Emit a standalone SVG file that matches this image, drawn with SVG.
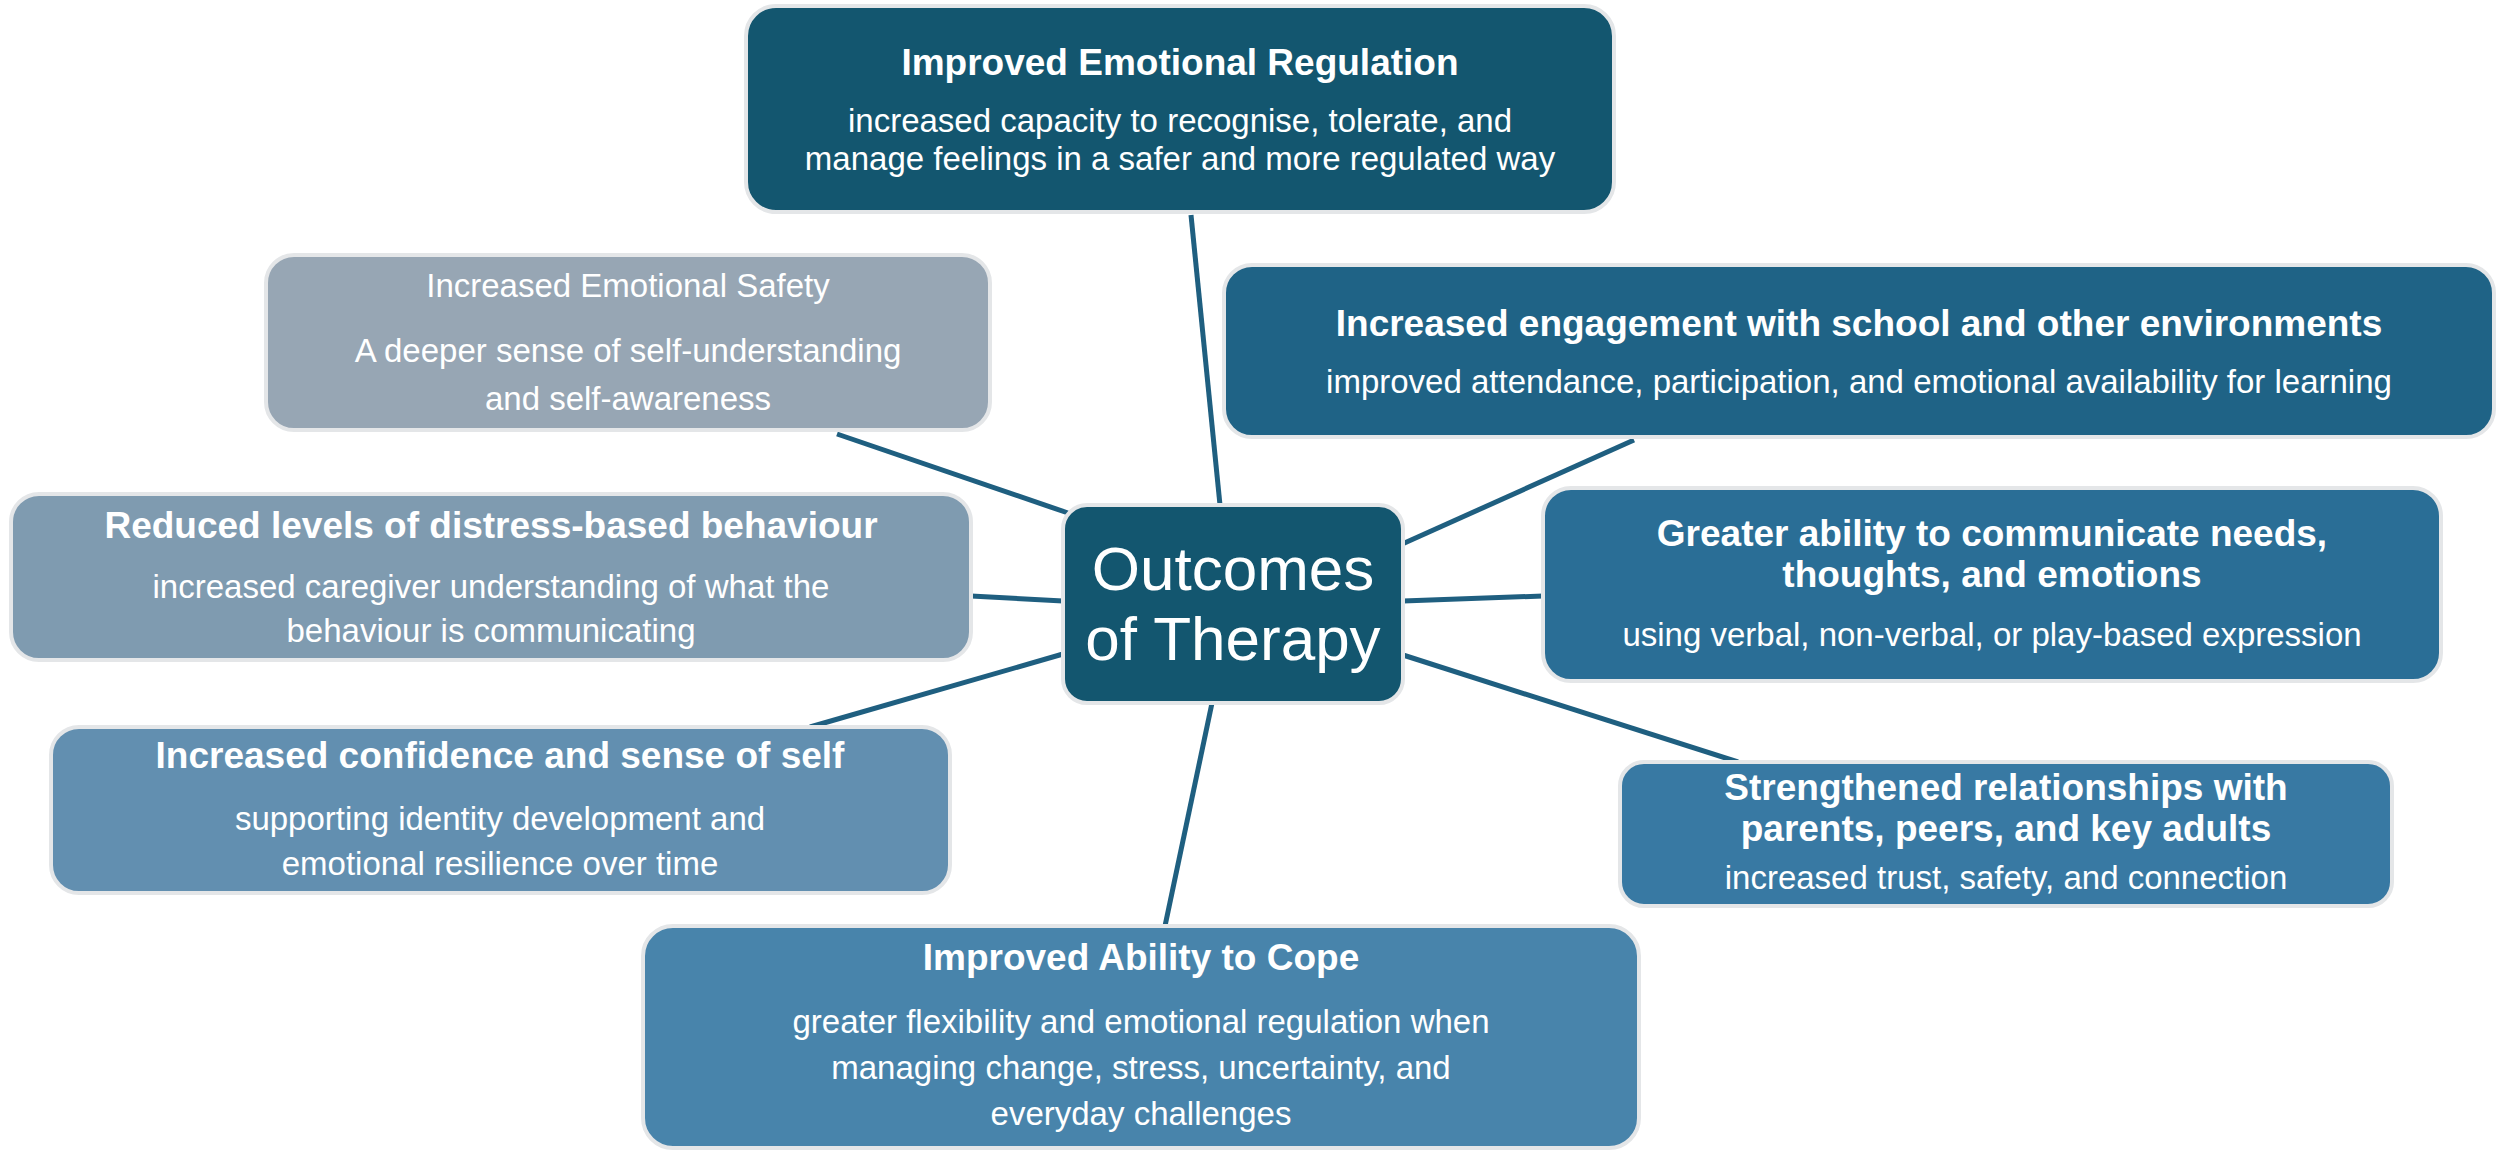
<svg xmlns="http://www.w3.org/2000/svg" width="2500" height="1167" viewBox="0 0 2500 1167">
<style>
text{font-family:"Liberation Sans",Arial,sans-serif;fill:#fff;text-anchor:middle}
.t{font-weight:bold;font-size:37px}
.s{font-size:33px}
.b{stroke:#e4e6e8;stroke-width:4}
.c{stroke:#1f5f80;stroke-width:5;fill:none}
</style>
<rect width="2500" height="1167" fill="#fff"/>
<g id="connectors">
<line class="c" x1="1220" y1="505" x2="1191" y2="215"/>
<line class="c" x1="1400" y1="545" x2="1634" y2="440"/>
<line class="c" x1="1403" y1="601" x2="1543" y2="596"/>
<line class="c" x1="1403" y1="655" x2="1738" y2="762"/>
<line class="c" x1="1212" y1="703" x2="1165" y2="926"/>
<line class="c" x1="1063" y1="654" x2="810" y2="727"/>
<line class="c" x1="1063" y1="601" x2="971" y2="596"/>
<line class="c" x1="837" y1="434" x2="1068" y2="513"/>
</g>
<g id="n-top"><rect class="b" x="746" y="6" width="868" height="206" rx="30" fill="#13566f"/>
<text class="t" x="1180" y="75" font-size="39">Improved Emotional Regulation</text>
<text class="s" x="1180" y="132">increased capacity to recognise, tolerate, and</text>
<text class="s" x="1180" y="170">manage feelings in a safer and more regulated way</text></g>
<g id="n-safety"><rect class="b" x="266" y="255" width="724" height="175" rx="28" fill="#97a6b4"/>
<text class="s" x="628" y="297" font-size="34">Increased Emotional Safety</text>
<text class="s" x="628" y="362" font-size="35">A deeper sense of self-understanding</text>
<text class="s" x="628" y="410" font-size="35">and self-awareness</text></g>
<g id="n-engage"><rect class="b" x="1224" y="265" width="1270" height="172" rx="28" fill="#1f6386"/>
<text class="t" x="1859" y="336">Increased engagement with school and other environments</text>
<text class="s" x="1859" y="393">improved attendance, participation, and emotional availability for learning</text></g>
<g id="n-reduced"><rect class="b" x="11" y="494" width="960" height="166" rx="28" fill="#7f9bb0"/>
<text class="t" x="491" y="538">Reduced levels of distress-based behaviour</text>
<text class="s" x="491" y="598" font-size="35">increased caregiver understanding of what the</text>
<text class="s" x="491" y="642" font-size="35">behaviour is communicating</text></g>
<g id="n-center"><rect class="b" x="1063" y="505" width="340" height="198" rx="24" fill="#13566f"/>
<text x="1233" y="590" font-size="62">Outcomes</text>
<text x="1233" y="660" font-size="62">of Therapy</text></g>
<g id="n-comm"><rect class="b" x="1543" y="488" width="898" height="193" rx="28" fill="#2a6e96"/>
<text class="t" x="1992" y="546">Greater ability to communicate needs,</text>
<text class="t" x="1992" y="587">thoughts, and emotions</text>
<text class="s" x="1992" y="646">using verbal, non-verbal, or play-based expression</text></g>
<g id="n-conf"><rect class="b" x="51" y="727" width="899" height="166" rx="28" fill="#628fb0"/>
<text class="t" x="500" y="768">Increased confidence and sense of self</text>
<text class="s" x="500" y="830" font-size="35">supporting identity development and</text>
<text class="s" x="500" y="875" font-size="35">emotional resilience over time</text></g>
<g id="n-rel"><rect class="b" x="1620" y="762" width="772" height="144" rx="24" fill="#3879a3"/>
<text class="t" x="2006" y="800" font-size="34">Strengthened relationships with</text>
<text class="t" x="2006" y="841" font-size="34">parents, peers, and key adults</text>
<text class="s" x="2006" y="889" font-size="31">increased trust, safety, and connection</text></g>
<g id="n-cope"><rect class="b" x="643" y="926" width="996" height="222" rx="30" fill="#4884ab"/>
<text class="t" x="1141" y="970" font-size="35">Improved Ability to Cope</text>
<text class="s" x="1141" y="1033">greater flexibility and emotional regulation when</text>
<text class="s" x="1141" y="1079">managing change, stress, uncertainty, and</text>
<text class="s" x="1141" y="1125">everyday challenges</text></g>
</svg>
